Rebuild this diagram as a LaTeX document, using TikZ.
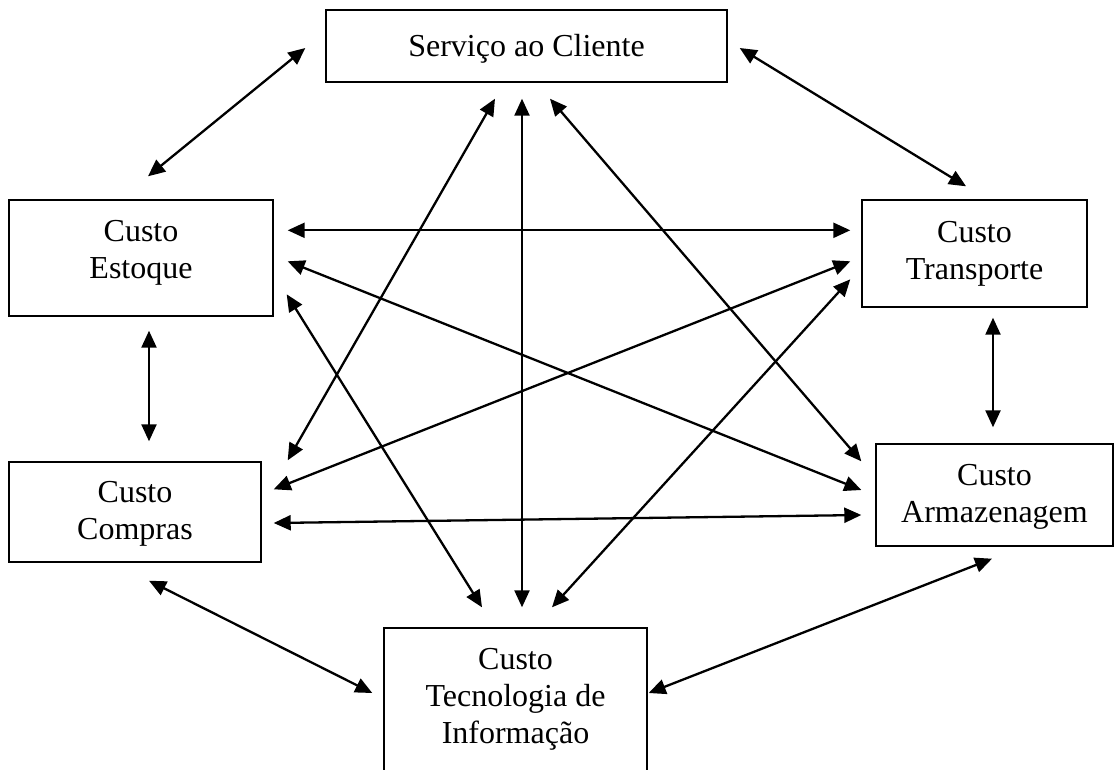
\documentclass[tikz,border=0pt]{standalone}
\usepackage{fontspec}
\setmainfont{Liberation Serif}
\usetikzlibrary{arrows.meta}
\begin{document}
\begin{tikzpicture}[x=1pt,y=-1pt,
  box/.style={draw,line width=1.4pt,rectangle,inner sep=0pt},
  lbl/.style={align=center,font=\fontsize{32}{37}\selectfont},
  link/.style={line width=2.3pt,{Triangle[length=17pt,width=15pt]}-{Triangle[length=17pt,width=15pt]}}]
\useasboundingbox (0,0) rectangle (1115,769);
\clip (0,0) rectangle (1115,769);
\node[box,minimum width=401pt,minimum height=72pt,
  label={[lbl,yshift=-3pt]center:{Serviço ao Cliente}}] (serv) at (526.5,46) {};
\node[box,minimum width=264pt,minimum height=116pt,
  label={[lbl,yshift=5pt]center:{Custo\\Estoque}}] (est) at (141,258) {};
\node[box,minimum width=225pt,minimum height=107pt,
  label={[lbl,yshift=0pt]center:{Custo\\Transporte}}] (tra) at (974.5,253.5) {};
\node[box,minimum width=252pt,minimum height=100pt,
  label={[lbl,yshift=-2pt]center:{Custo\\Compras}}] (com) at (135,512) {};
\node[box,minimum width=237pt,minimum height=102pt,
  label={[lbl,yshift=-1.5pt]center:{Custo\\Armazenagem}}] (arm) at (994.5,495) {};
\node[box,minimum width=263pt,minimum height=172pt,
  label={[lbl,yshift=15pt]center:{Custo\\Tecnologia de\\Informação}}] (tec) at (515.5,714) {};
% connectors
\draw[link] ([shift={(-20,2)}]serv.west) -- ([shift={(7,-23)}]est.north);
\draw[link] ([shift={(12,2)}]serv.east) -- ([shift={(-8.5,-13)}]tra.north);
\draw[link] ([shift={(-31.5,16)}]serv.south) -- ([shift={(26,-1)}]com.north east);
\draw[link] ([shift={(-4.5,16)}]serv.south) -- ([shift={(6.5,-20)}]tec.north);
\draw[link] ([shift={(23.5,16)}]serv.south) -- ([shift={(-14,18)}]arm.north west);
\draw[link] ([shift={(14,31)}]est.north east) -- ([shift={(-11,31)}]tra.north west);
\draw[link] ([shift={(14,62)}]est.north east) -- ([shift={(-14,-5)}]arm.west);
\draw[link] ([shift={(13,95)}]est.north east) -- ([shift={(-33.5,-20)}]tec.north);
\draw[link] ([shift={(-11,62)}]tra.north west) -- ([shift={(12,28)}]com.north east);
\draw[link] ([shift={(-11,80)}]tra.north west) -- ([shift={(36.5,-20)}]tec.north);
\draw[link] ([shift={(8,14)}]est.south) -- ([shift={(14,-20)}]com.north);
\draw[link] ([shift={(18.5,10)}]tra.south) -- ([shift={(-1.5,-16)}]arm.north);
\draw[link] ([shift={(12,11)}]com.east) -- ([shift={(-14,20)}]arm.west);
\draw[link] ([shift={(14,18)}]com.south) -- ([shift={(-11,-21)}]tec.west);
\draw[link] ([shift={(-2.5,12)}]arm.south) -- ([shift={(1,-21)}]tec.east);
\end{tikzpicture}
\end{document}
